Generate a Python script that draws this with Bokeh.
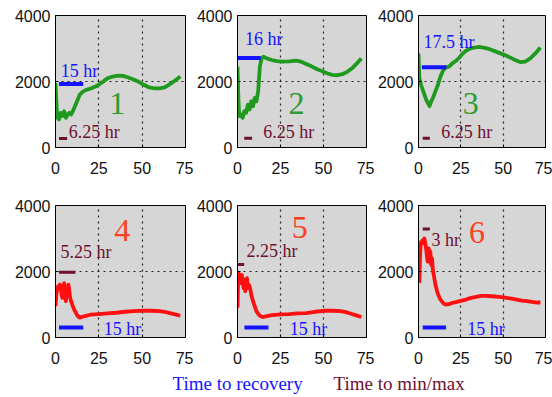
from bokeh.plotting import figure
from bokeh.models import Range1d, FixedTicker, Label
from bokeh.layouts import column, row
from bokeh.core.properties import value
from bokeh.embed import file_html
from bokeh.resources import INLINE

# ---------------- data ----------------
x_ticks = [0, 25, 50, 75]
y_ticks = [0, 2000, 4000]
panel_names = ["1", "2", "3", "4", "5", "6"]

t1 = [0, 0.5, 1, 1.5, 2, 3, 4, 5, 6, 7, 8, 9, 10, 12, 14, 16, 18, 21, 24, 27, 30, 33, 36, 39, 42, 45, 48, 51, 54, 57, 60, 63, 66, 69, 72]
v1 = [1950, 1400, 900, 1000, 850, 1050, 950, 1100, 900, 1000, 1050, 1000, 1100, 1350, 1600, 1700, 1750, 1800, 1870, 1980, 2100, 2150, 2180, 2170, 2120, 2060, 1990, 1900, 1820, 1790, 1790, 1820, 1920, 2030, 2150]

t2 = [0, 0.5, 1, 2, 3, 4, 5, 6, 7, 8, 9, 10, 11, 12, 13, 14, 15, 17, 20, 23, 26, 30, 34, 37, 40, 43, 46, 49, 52, 55, 58, 61, 64, 67, 70, 72]
v2 = [2450, 1500, 950, 1000, 900, 1100, 1050, 1300, 1150, 1400, 1250, 1500, 1400, 1700, 2450, 2700, 2750, 2700, 2650, 2620, 2600, 2610, 2630, 2600, 2530, 2460, 2380, 2320, 2250, 2200, 2190, 2220, 2300, 2420, 2580, 2700]

t3 = [0, 0.5, 1.5, 2.5, 3.5, 4.5, 5.5, 6.5, 7.5, 8.5, 10, 11.5, 13, 14.5, 16, 18, 20, 22, 24, 26, 28, 30, 33, 36, 39, 42, 45, 48, 51, 54, 57, 60, 63, 66, 69, 72]
v3 = [2850, 2100, 1900, 1750, 1600, 1450, 1350, 1250, 1400, 1500, 1700, 1900, 2150, 2330, 2420, 2450, 2550, 2620, 2720, 2840, 2930, 2990, 3030, 3050, 3020, 2980, 2920, 2860, 2800, 2730, 2650, 2590, 2600, 2700, 2850, 3030]

t4 = [0, 0.5, 1, 1.5, 2, 2.5, 3, 3.5, 4, 4.5, 5, 5.5, 6, 6.5, 7, 7.5, 8, 8.5, 9, 10, 11, 12, 13, 14, 15, 17, 20, 25, 30, 35, 40, 45, 50, 55, 60, 63, 66, 69, 72]
v4 = [950, 1300, 1450, 1550, 1500, 1600, 1550, 1300, 1200, 1500, 1650, 1300, 1100, 1400, 1550, 1600, 1400, 1200, 1100, 950, 820, 720, 640, 600, 620, 650, 690, 710, 730, 750, 780, 800, 810, 810, 800, 780, 740, 700, 660]

t5 = [0, 0.3, 0.6, 1, 1.5, 2, 2.5, 3, 3.5, 4, 4.5, 5, 5.5, 6, 6.5, 7, 7.5, 8, 9, 10, 11, 12, 13, 14, 15, 17, 20, 25, 30, 35, 40, 45, 50, 55, 60, 63, 66, 69, 72]
v5 = [900, 1600, 1950, 1900, 1800, 1650, 1900, 1700, 1500, 1750, 1400, 1650, 1800, 1500, 1600, 1550, 1450, 1300, 1100, 950, 800, 720, 660, 630, 620, 650, 680, 700, 710, 730, 740, 780, 810, 810, 800, 770, 720, 670, 620]

t6 = [0.5, 1, 1.5, 2, 2.5, 3, 3.5, 4, 4.5, 5, 5.5, 6, 6.5, 7, 7.5, 8, 8.5, 9, 10, 11, 12, 13, 14, 15, 16, 18, 20, 22, 25, 28, 31, 34, 37, 40, 43, 46, 49, 52, 55, 58, 61, 64, 67, 70, 72]
v6 = [1650, 2600, 2900, 2850, 2950, 2900, 3000, 2850, 2700, 2450, 2300, 2700, 2500, 2600, 2200, 2400, 2050, 1900, 1600, 1400, 1250, 1150, 1080, 1020, 1000, 1010, 1050, 1070, 1110, 1150, 1200, 1230, 1260, 1260, 1250, 1240, 1220, 1200, 1180, 1150, 1120, 1100, 1080, 1060, 1060]

# time-to-recovery bars: start, end, level
rec_start = [2, 0, 2, 2, 4, 2.5]
rec_end = [16, 13.5, 16.5, 16, 18, 16.3]
rec_level = [1925, 2715, 2430, 305, 305, 305]
rec_text = ["15 hr", "16 hr", "17.5 hr", "15 hr", "15 hr", "15 hr"]
rec_text_t = [3, 4.3, 2.9, 27.9, 30.4, 28.8]
rec_text_v = [2330, 3300, 3190, 255, 255, 255]

# time-to-min/max bars: start, end, level
mm_start = [2, 3.9, 2.5, 2, 0, 2.5]
mm_end = [6.7, 8.5, 6.7, 11.5, 3.9, 6.7]
mm_level = [275, 280, 280, 1975, 2210, 3290]
mm_text = ["6.25 hr", "6.25 hr", "6.25 hr", "5.25 hr", "2.25 hr", "3 hr"]
mm_text_t = [7.7, 14.9, 13.5, 2.9, 5.2, 7.7]
mm_text_v = [455, 455, 455, 2580, 2630, 2940]

name_t = [35.6, 34.3, 30.8, 38.5, 36.2, 34.6]
name_v = [1320, 1320, 1320, 3240, 3340, 3190]

legend_labels = ["Time to recovery", "Time to min/max"]

series_t = [t1, t2, t3, t4, t5, t6]
series_v = [v1, v2, v3, v4, v5, v6]

# ---------------- styles ----------------
GREEN = "#1f9a1f"
RED = "#ff1010"
BLUE = "#1414ff"
MAROON = "#6e1030"
NUM_GREEN = "#2e9b2e"
NUM_RED = "#ff4020"
BG = "#d6d6d6"
SERIF = "Liberation Serif"
SANS = "Liberation Sans"

# column geometry: (width, left border, right border)
cols = [(193, 55, 8), (181, 43, 8), (178, 41, 7)]
rows_geo = [(190, 15, 43), (182, 15, 35)]


def make_panel(i):
    r, c = divmod(i, 3)
    w, bl, br = cols[c]
    h, bt, bb = rows_geo[r]
    p = figure(width=w, height=h, x_range=Range1d(0, 75), y_range=Range1d(0, 4000),
               toolbar_location=None, output_backend="svg",
               min_border_left=bl, min_border_right=br,
               min_border_top=bt, min_border_bottom=bb)
    p.background_fill_color = BG
    p.border_fill_color = "white"
    p.outline_line_color = "black"
    p.outline_line_width = 1

    p.xaxis.ticker = FixedTicker(ticks=x_ticks)
    p.yaxis.ticker = FixedTicker(ticks=y_ticks)
    for ax in (p.xaxis, p.yaxis):
        ax.major_label_text_font = SANS
        ax.major_label_text_font_size = "16px"
        ax.major_label_text_color = "#111111"
        ax.major_tick_out = 0
        ax.major_tick_in = 3
        ax.minor_tick_out = 0
        ax.minor_tick_in = 0
        ax.axis_line_color = "black"
        ax.major_tick_line_color = "black"
    p.xaxis.major_label_standoff = 14
    p.yaxis.major_label_standoff = 5

    p.xgrid.ticker = FixedTicker(ticks=[25, 50])
    p.ygrid.ticker = FixedTicker(ticks=[2000])
    for g in (p.xgrid, p.ygrid):
        g.grid_line_color = "#222222"
        g.grid_line_dash = "2 4"
        g.grid_line_width = 1.2

    col = GREEN if r == 0 else RED
    p.line(series_t[i], series_v[i], line_width=3.8, line_color=col, line_join="round")

    p.segment(x0=[rec_start[i]], y0=[rec_level[i]], x1=[rec_end[i]], y1=[rec_level[i]],
              line_width=4, line_color=BLUE, line_cap="butt")
    p.segment(x0=[mm_start[i]], y0=[mm_level[i]], x1=[mm_end[i]], y1=[mm_level[i]],
              line_width=3, line_color=MAROON, line_cap="butt")

    p.text(x=[rec_text_t[i]], y=[rec_text_v[i]], text=[rec_text[i]],
           text_font=value(SERIF), text_font_size="18px", text_color=BLUE,
           text_align="left", text_baseline="middle")
    p.text(x=[mm_text_t[i]], y=[mm_text_v[i]], text=[mm_text[i]],
           text_font=value(SERIF), text_font_size="18px", text_color=MAROON,
           text_align="left", text_baseline="middle")
    p.text(x=[name_t[i]], y=[name_v[i]], text=[panel_names[i]],
           text_font=value(SERIF), text_font_size="32px",
           text_color=NUM_GREEN if r == 0 else NUM_RED,
           text_align="center", text_baseline="middle")
    return p


panels = [make_panel(i) for i in range(6)]

leg = figure(width=552, height=25, x_range=Range1d(0, 1), y_range=Range1d(0, 1),
             toolbar_location=None, output_backend="svg",
             min_border_left=0, min_border_right=0, min_border_top=0, min_border_bottom=0)
leg.axis.visible = False
leg.grid.visible = False
leg.outline_line_color = None
leg.background_fill_color = "white"
leg.add_layout(Label(x=172, y=14, x_units="screen", y_units="screen", text=legend_labels[0],
                     text_font=SERIF, text_font_size="19px", text_color=BLUE,
                     text_baseline="middle", text_align="left"))
leg.add_layout(Label(x=333, y=14, x_units="screen", y_units="screen", text=legend_labels[1],
                     text_font=SERIF, text_font_size="19px", text_color=MAROON,
                     text_baseline="middle", text_align="left"))

layout = column(row(*panels[:3], spacing=0), row(*panels[3:], spacing=0), leg, spacing=0)

open("out.html", "w").write(file_html(layout, INLINE))
